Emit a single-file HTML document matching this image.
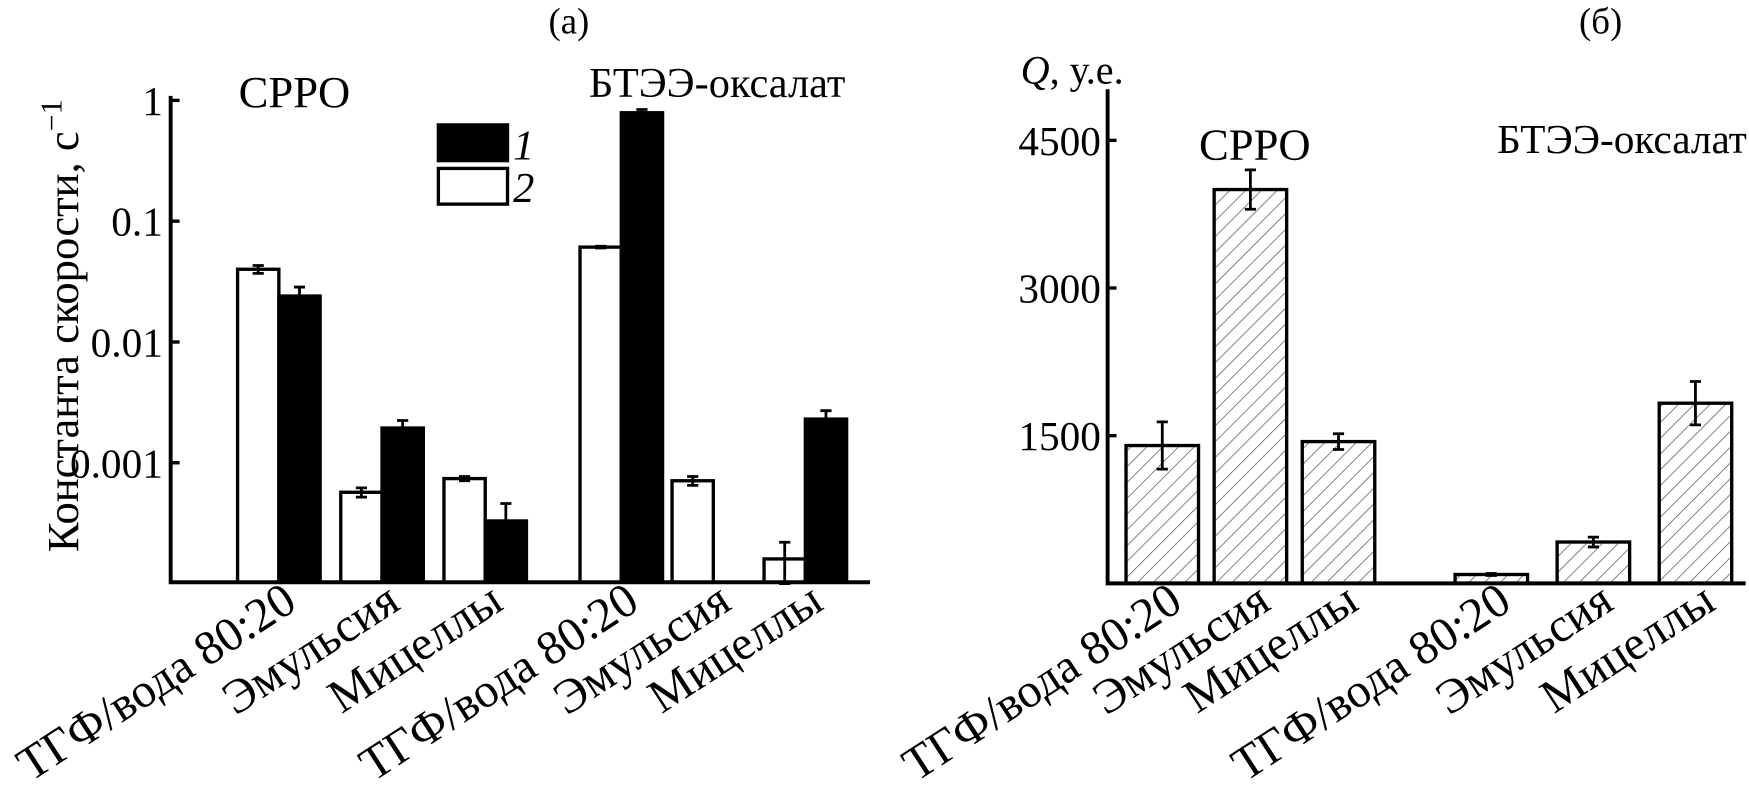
<!DOCTYPE html>
<html><head><meta charset="utf-8"><style>
body{margin:0;background:#fff}
svg text{font-family:"Liberation Serif","DejaVu Serif",serif;fill:#000}
</style></head><body>
<svg id="s" width="1749" height="785" viewBox="0 0 1749 785" xmlns="http://www.w3.org/2000/svg">
<defs>
<pattern id="hatch" patternUnits="userSpaceOnUse" width="10" height="10" patternTransform="rotate(45)">
<line x1="0" y1="0" x2="0" y2="10" stroke="#555" stroke-width="1.3"/>
</pattern>
</defs>
<g transform="scale(1.11543)">
<text x="510" y="30" font-size="33" text-anchor="middle">(а)</text>
<text x="1435" y="30" font-size="33" text-anchor="middle">(б)</text>
<text transform="translate(70,292) rotate(-90)" font-size="40" text-anchor="middle">Константа скорости, с<tspan dy="-15" font-size="27">−1</tspan></text>
<text x="264" y="96" font-size="40" text-anchor="middle">CPPO</text>
<text x="643" y="87" font-size="38" text-anchor="middle">БТЭЭ-оксалат</text>
<g>
<rect x="393" y="112" width="62" height="32" fill="#000" stroke="#000" stroke-width="3"/>
<text x="460" y="143" font-size="38" font-style="italic">1</text>
<rect x="393" y="151" width="62" height="32" fill="#fff" stroke="#000" stroke-width="3"/>
<text x="460" y="181" font-size="38" font-style="italic">2</text>
</g>
<text x="915" y="75" font-size="36"><tspan font-style="italic">Q</tspan>, у.е.</text>
<text x="1125" y="143" font-size="40" text-anchor="middle">CPPO</text>
<text x="1566" y="137" font-size="37" text-anchor="end">БТЭЭ-оксалат</text>
<g id="ga"></g><g id="gb"></g>
</g>
</svg>
<script>
// Panel (a) data — log scale
const catsA = ["ТГФ/вода 80:20","Эмульсия","Мицеллы","ТГФ/вода 80:20","Эмульсия","Мицеллы"];
const series1 = [0.024, 0.00194, 0.00033, 0.79, null, 0.0023];
const series1Err = [0.0045, 0.0003, 0.00013, 0.05, null, 0.0004];
const series2 = [0.040, 0.00057, 0.00074, 0.061, 0.00071, 0.00016];
const series2Err = [0.003, 0.00005, 0.00003, 0.001, 0.00006, 0.00006];
const ticksA = [1, 0.1, 0.01, 0.001];
const tickLabelsA = ["1","0.1","0.01","0.001"];
// Panel (b) data — linear
const catsB = ["ТГФ/вода 80:20","Эмульсия","Мицеллы","ТГФ/вода 80:20","Эмульсия","Мицеллы"];
const valuesB = [1400, 4000, 1440, 90, 420, 1830];
const errB = [240, 200, 80, 10, 50, 220];
const ticksB = [1500, 3000, 4500];

const NS="http://www.w3.org/2000/svg";
function mk(p,tag,a){const e=document.createElementNS(NS,tag);for(const k in a)e.setAttribute(k,a[k]);p.appendChild(e);return e;}
const ga=document.getElementById('ga'), gb=document.getElementById('gb');

const yA=v=>90+(0-Math.log10(v))*108.3;
const baseA=522;
const xA=i=> (i<3? 250+i*92.5 : 557+(i-3)*82.5);
const bw=37;
function errbar(g,x,y1,y2,name){
  const e=mk(g,'path',{d:`M${x} ${y1}V${y2}M${x-5} ${y1}H${x+5}M${x-5} ${y2}H${x+5}`,stroke:'#000','stroke-width':2.5,fill:'none'});
  
  
}
catsA.forEach((c,i)=>{
  const cx=xA(i);
  const v2=series2[i];
  if(v2!=null){const y=yA(v2);
    const r=mk(ga,'rect',{x:cx-bw,y:y,width:bw,height:baseA-y,fill:'#fff',stroke:'#000','stroke-width':3});
    
    
    errbar(ga,cx-bw/2,yA(v2+series2Err[i]),yA(Math.max(v2-series2Err[i],1e-5)),'error-bar-series2-'+i);}
  const v1=series1[i];
  if(v1!=null){const y=yA(v1);
    const r=mk(ga,'rect',{x:cx,y:y,width:bw,height:baseA-y,fill:'#000',stroke:'#000','stroke-width':3});
    
    
    errbar(ga,cx+bw/2,yA(v1+series1Err[i]),y,'error-bar-series1-'+i);}
  const t=mk(ga,'text',{transform:`translate(${cx+18},545) rotate(-33)`,'font-size':43,'text-anchor':'end'});
  t.textContent=c;
  
  
});
const axA=mk(ga,'path',{d:`M153 86V${baseA}H780`,stroke:'#000','stroke-width':3.5,fill:'none'});


ticksA.forEach((v,i)=>{const y=yA(v);
  const tk=mk(ga,'line',{x1:153,x2:161,y1:y,y2:y,stroke:'#000','stroke-width':3});
  
  
  const t=mk(ga,'text',{x:146,y:y+13,'font-size':37,'text-anchor':'end'});t.textContent=tickLabelsA[i];
  
  
});

const yB=v=>523-v*132.4/1500;
const baseB=523;
const xB=i=>(i<3? 1042+i*79 : 1337+(i-3)*91.5);
const bwB=65;
catsB.forEach((c,i)=>{
  const cx=xB(i), y=yB(valuesB[i]);
  const r=mk(gb,'rect',{x:cx-bwB/2,y:y,width:bwB,height:baseB-y,fill:'url(#hatch)',stroke:'#000','stroke-width':3});
  
  
  errbar(gb,cx,yB(valuesB[i]+errB[i]),yB(valuesB[i]-errB[i]),'error-bar-q-'+i);
  const t=mk(gb,'text',{transform:`translate(${cx+20},545) rotate(-33)`,'font-size':43,'text-anchor':'end'});
  t.textContent=c;
  
  
});
const axB=mk(gb,'path',{d:`M993 80V${baseB}H1565`,stroke:'#000','stroke-width':3.5,fill:'none'});


ticksB.forEach((v,i)=>{const y=yB(v);
  const tk=mk(gb,'line',{x1:993,x2:1001,y1:y,y2:y,stroke:'#000','stroke-width':3});
  
  
  const t=mk(gb,'text',{x:987,y:y+13,'font-size':37,'text-anchor':'end'});t.textContent=String(v);
  
  
});
</script>
</body></html>
